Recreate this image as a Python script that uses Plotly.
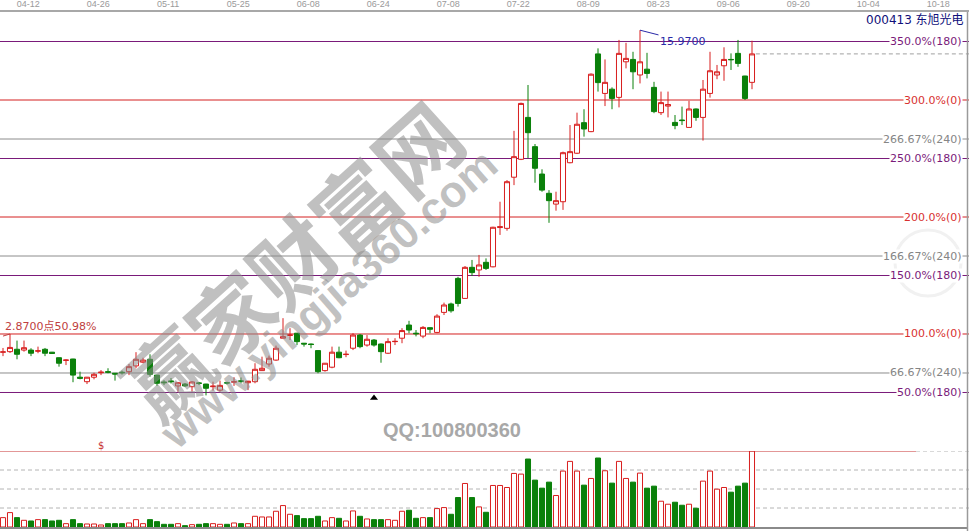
import plotly.graph_objects as go

# ---------------- data ----------------
DATE_LABELS = ["04-12", "04-26", "05-11", "05-25", "06-08", "06-24", "07-08",
               "07-22", "08-09", "08-23", "09-06", "09-20", "10-04", "10-18"]

OPEN = [3.75, 3.77, 3.86, 3.83, 3.83, 3.79, 3.86, 3.75, 3.54, 3.44,
        3.49, 2.80, 2.63, 2.80, 2.97, 3.01, 2.95, 2.99, 3.01, 3.23,
        3.37, 3.48, 2.88, 2.62, 2.66, 2.47, 2.54, 2.44, 2.58, 2.54,
        2.44, 2.31, 2.59, 2.61, 2.66, 2.59, 2.63, 3.05, 3.30, 3.45,
        4.28, 4.39, 4.47, 4.09, 4.06, 3.81, 3.05, 3.18, 3.75, 3.66,
        3.90, 4.40, 4.02, 4.21, 4.06, 3.71, 4.15, 4.28, 4.78, 4.47,
        4.36, 4.68, 4.50, 5.26, 5.58, 6.55, 5.79, 6.97, 6.87, 7.16,
        6.99, 8.48, 8.45, 10.39, 11.07, 12.66, 11.55, 10.51, 9.78, 9.37,
        9.46, 10.94, 11.30, 12.46, 12.12, 15.07, 13.57, 13.73, 13.42, 14.77,
        14.86, 14.27, 14.49, 13.80, 12.84, 13.09, 12.47, 12.56, 12.28, 12.98,
        12.66, 13.57, 14.27, 14.62, 14.86, 15.09, 14.23, 13.99]
HIGH = [3.91, 4.44, 4.19, 4.19, 3.90, 3.96, 3.91, 3.76, 3.55, 3.48,
        3.50, 3.01, 2.81, 2.97, 3.07, 3.14, 2.96, 3.05, 3.30, 3.75,
        3.54, 3.67, 2.89, 2.69, 2.77, 2.62, 2.58, 2.65, 2.62, 2.55,
        2.63, 2.67, 2.63, 2.80, 2.79, 2.66, 3.33, 3.58, 3.62, 4.00,
        5.04, 4.66, 4.48, 4.10, 4.08, 3.83, 3.34, 3.96, 3.96, 3.81,
        4.47, 4.44, 4.40, 4.25, 4.08, 4.28, 4.28, 4.66, 4.94, 4.59,
        4.74, 4.69, 5.19, 5.63, 5.63, 6.61, 7.02, 7.25, 7.44, 7.31,
        8.51, 9.46, 10.28, 12.15, 13.22, 13.89, 11.65, 10.69, 9.90, 9.84,
        11.36, 12.37, 12.84, 12.97, 14.33, 15.28, 14.86, 13.80, 15.60, 15.49,
        15.15, 15.97, 15.11, 14.01, 13.64, 13.64, 12.75, 13.07, 13.29, 13.00,
        14.08, 15.15, 14.65, 15.32, 15.09, 15.60, 14.24, 15.57]
LOW = [3.60, 3.72, 3.48, 3.77, 3.60, 3.71, 3.60, 3.68, 3.20, 3.26,
       2.61, 2.72, 2.54, 2.72, 2.88, 2.95, 2.67, 2.90, 2.88, 3.14,
       3.33, 2.82, 2.47, 2.50, 2.56, 2.25, 2.43, 2.25, 2.50, 2.11,
       2.29, 2.25, 2.52, 2.47, 2.57, 2.31, 2.57, 3.04, 3.20, 3.42,
       4.27, 4.21, 4.02, 3.96, 3.90, 2.95, 3.01, 3.14, 3.52, 3.56,
       3.83, 3.90, 3.96, 3.96, 3.35, 3.68, 4.02, 4.09, 4.47, 4.35,
       4.28, 4.47, 4.47, 5.16, 5.25, 5.48, 5.77, 6.64, 6.61, 6.87,
       6.97, 8.20, 8.36, 10.09, 11.04, 11.11, 10.18, 9.84, 8.66, 9.12,
       9.15, 10.92, 11.27, 11.93, 12.10, 13.64, 13.09, 12.97, 13.04, 14.52,
       13.73, 13.95, 14.14, 12.82, 12.75, 12.66, 12.21, 12.37, 12.27, 12.53,
       11.78, 13.41, 14.11, 14.05, 14.46, 14.58, 13.32, 13.73]
CLOSE = [3.76, 3.93, 3.67, 3.92, 3.71, 3.80, 3.71, 3.70, 3.33, 3.45,
         2.88, 2.76, 2.80, 2.91, 2.99, 2.99, 2.92, 2.97, 3.20, 3.48,
         3.45, 2.91, 2.57, 2.59, 2.63, 2.59, 2.47, 2.62, 2.57, 2.38,
         2.46, 2.49, 2.58, 2.63, 2.65, 2.65, 3.10, 3.14, 3.52, 3.90,
         4.34, 4.40, 4.15, 4.06, 4.04, 3.01, 3.33, 3.75, 3.54, 3.67,
         4.40, 3.96, 4.24, 4.02, 3.77, 4.15, 4.16, 4.57, 4.59, 4.45,
         4.69, 4.62, 5.12, 5.54, 5.32, 5.60, 6.97, 6.77, 7.06, 6.93,
         8.49, 8.51, 10.22, 11.17, 13.19, 12.08, 10.73, 9.90, 9.50, 9.50,
         11.32, 11.36, 12.40, 12.22, 14.30, 13.98, 13.99, 13.38, 15.09, 14.90,
         14.39, 14.77, 14.33, 12.88, 13.22, 13.15, 12.35, 12.54, 12.98, 12.66,
         13.73, 14.43, 14.39, 14.86, 14.85, 14.71, 13.38, 15.07]
VOLUME = [28, 43, 28, 20, 18, 22, 22, 18, 20, 10,
          22, 10, 9, 9, 6, 10, 10, 10, 12, 22,
          10, 22, 16, 8, 8, 10, 4, 7, 8, 10,
          10, 8, 8, 12, 10, 10, 32, 30, 30, 47,
          64, 38, 34, 25, 25, 32, 18, 28, 26, 18,
          48, 32, 24, 22, 22, 22, 20, 47, 50, 26,
          28, 28, 55, 58, 38, 88, 130, 88, 60, 44,
          124, 124, 118, 160, 158, 203, 140, 116, 134, 94,
          167, 196, 167, 125, 145, 206, 168, 131, 196, 145,
          134, 161, 116, 122, 77, 68, 74, 65, 68, 56,
          137, 167, 113, 118, 104, 122, 131, 227]

BASE_PRICE = 4.44
LEVEL_PCT = [350, 300, 266.67, 250, 200, 166.67, 150, 100, 66.67, 50]
LEVEL_ANGLE = [180, 0, 240, 180, 0, 240, 180, 0, 240, 180]
LEVEL_TEXT = ["350.0%(180)", "300.0%(0)", "266.67%(240)", "250.0%(180)",
              "200.0%(0)", "166.67%(240)", "150.0%(180)", "100.0%(0)",
              "66.67%(240)", "50.0%(180)"]
STOCK_LABEL = "000413 东旭光电"
MOVE_TEXT = "2.8700点50.98%"
MARK_INDEX = 53
MARK_PRICE = 2.01

# ---------------- styling ----------------
W, H = 969, 531
RED = "#D81E1E"
GREEN = "#0A800A"
PURPLE = "#7A1A7A"
GRAY = "#8C8C8C"
ANGLE_COLOR = {180: PURPLE, 0: "#D42020", 240: GRAY}
ANGLE_TEXT = {180: "#7A1A7A", 0: "#D83030", 240: "#858585"}
FONT = "DejaVu Sans, Noto Sans CJK SC, sans-serif"

N = len(OPEN)
X = list(range(N))
XR0 = -3.0 / 7.0
XR1 = XR0 + W / 7.0


def py(px):  # paper y from pixel row
    return (H - px) / H


def pxx(px):  # paper x from pixel column
    return px / W


PRICE_DOM = [py(440), py(12)]
PRICE_RANGE = [0.417, 16.66]
VOL_DOM = [py(527), py(451)]
VMAX = max(VOLUME)

up = [c >= o for o, c in zip(OPEN, CLOSE)]

fig = go.Figure()

fig.add_trace(go.Candlestick(
    x=X, open=OPEN, high=HIGH, low=LOW, close=CLOSE,
    increasing=dict(line=dict(color=RED, width=1), fillcolor="white"),
    decreasing=dict(line=dict(color=GREEN, width=1), fillcolor=GREEN),
    whiskerwidth=0, hoverinfo="skip", showlegend=False,
    xaxis="x", yaxis="y"))

fig.add_trace(go.Bar(
    x=X, y=VOLUME, width=0.72,
    marker=dict(color=["white" if u else GREEN for u in up],
                line=dict(color=[RED if u else GREEN for u in up], width=1)),
    hoverinfo="skip", showlegend=False, xaxis="x", yaxis="y2"))

fig.add_trace(go.Scatter(
    x=[MARK_INDEX], y=[MARK_PRICE], mode="markers",
    marker=dict(symbol="triangle-up", size=7, color="black"),
    hoverinfo="skip", showlegend=False, xaxis="x", yaxis="y"))

shapes = []
annotations = []

# level lines + labels
for pct, ang, txt in zip(LEVEL_PCT, LEVEL_ANGLE, LEVEL_TEXT):
    yv = BASE_PRICE * pct / 100.0
    shapes.append(dict(type="line", xref="x", yref="y", x0=XR0, x1=XR1,
                       y0=yv, y1=yv, line=dict(color=ANGLE_COLOR[ang], width=1),
                       layer="below"))
    annotations.append(dict(xref="paper", yref="y", x=pxx(963), y=yv,
                            xanchor="right", yanchor="middle", text=txt,
                            showarrow=False, bgcolor="white", borderpad=0,
                            font=dict(family=FONT, size=11, color=ANGLE_TEXT[ang])))

# last close dashed line
shapes.append(dict(type="line", xref="x", yref="y", x0=N - 1 + 0.55, x1=XR1,
                   y0=CLOSE[-1], y1=CLOSE[-1],
                   line=dict(color="#A0A0A0", width=1, dash="4px,3px")))

# volume grid
for k in (1, 2, 3):
    shapes.append(dict(type="line", xref="paper", yref="y2", x0=0, x1=1,
                       y0=VMAX * k / 4, y1=VMAX * k / 4,
                       line=dict(color="#B4B4B4", width=1, dash="4px,3px"),
                       layer="below"))
shapes.append(dict(type="line", xref="paper", yref="y2", x0=0, x1=pxx(916),
                   y0=VMAX, y1=VMAX, line=dict(color="#C83030", width=1.2)))
shapes.append(dict(type="line", xref="paper", yref="y2", x0=pxx(916), x1=1,
                   y0=VMAX, y1=VMAX,
                   line=dict(color="#B4B4B4", width=1, dash="4px,3px")))
# bottom border
shapes.append(dict(type="line", xref="paper", yref="paper", x0=0, x1=pxx(968),
                   y0=py(528), y1=py(528), line=dict(color="#8A8A8A", width=2)))
# right border
shapes.append(dict(type="line", xref="paper", yref="paper", x0=pxx(967.5), x1=pxx(967.5),
                   y0=0, y1=py(12), line=dict(color="#9A9A9A", width=1.5)))
# faint circle watermark at right
shapes.append(dict(type="circle", xref="paper", yref="paper",
                   x0=pxx(895), x1=pxx(961), y0=py(296), y1=py(230),
                   line=dict(color="#F1F1F1", width=3), layer="below"))

# stock name
annotations.append(dict(xref="paper", yref="paper", x=pxx(966), y=py(20),
                        xanchor="right", yanchor="middle", text=STOCK_LABEL,
                        showarrow=False,
                        font=dict(family=FONT, size=12, color="#10107A")))

# highest price marker
imax = HIGH.index(max(HIGH))
annotations.append(dict(xref="x", yref="y", x=imax, y=HIGH[imax],
                        text="%.4f" % HIGH[imax], showarrow=True, arrowhead=0,
                        arrowwidth=1, arrowcolor="#2A2AA8", ax=43, ay=11,
                        font=dict(family=FONT, size=11, color="#2A2AA8")))

# move annotation at left
annotations.append(dict(xref="x", yref="y", x=1, y=HIGH[1], text=" ",
                        showarrow=True, arrowhead=0, arrowwidth=1,
                        arrowcolor="#C04040", ax=-14, ay=3))
annotations.append(dict(xref="paper", yref="paper", x=pxx(98), y=py(326),
                        xanchor="right", yanchor="middle", text=MOVE_TEXT,
                        showarrow=False,
                        font=dict(family=FONT, size=11, color="#C04040")))

# "$" marker in volume area
annotations.append(dict(xref="paper", yref="paper", x=pxx(101), y=py(445),
                        xanchor="center", yanchor="middle",
                        text="$", showarrow=False,
                        font=dict(family=FONT, size=10, color="#C83030")))

# watermarks
annotations.append(dict(xref="paper", yref="paper", x=pxx(290), y=py(258),
                        xanchor="center", yanchor="middle",
                        text="赢家财富网", textangle=-42, showarrow=False,
                        font=dict(family="Noto Sans CJK SC", size=84,
                                  color="rgba(140,140,140,0.55)", weight="bold")))
annotations.append(dict(xref="paper", yref="paper", x=pxx(328), y=py(298),
                        xanchor="center", yanchor="middle",
                        text="www.yingjia360.com", textangle=-41, showarrow=False,
                        font=dict(family="Liberation Sans, Arial", size=44,
                                  color="rgba(140,140,140,0.55)", weight="bold")))
annotations.append(dict(xref="paper", yref="paper", x=pxx(452), y=py(430),
                        xanchor="center", yanchor="middle",
                        text="QQ:100800360", showarrow=False,
                        font=dict(family="Liberation Sans, Arial", size=20,
                                  color="#A8A8A8", weight="bold")))

fig.update_layout(
    width=W, height=H,
    margin=dict(l=0, r=0, t=0, b=0),
    paper_bgcolor="white", plot_bgcolor="white",
    showlegend=False,
    boxgap=0.28, boxgroupgap=0,
    xaxis=dict(range=[XR0, XR1], side="top", anchor="y",
               tickvals=[3.6 + 10 * k for k in range(len(DATE_LABELS))],
               ticktext=DATE_LABELS, showgrid=False, zeroline=False,
               showline=True, linecolor="#A8A8A8", linewidth=1.5, ticks="",
               tickfont=dict(family="Liberation Sans, Arial", size=9, color="#9A9A9A"),
               rangeslider=dict(visible=False), fixedrange=True),
    yaxis=dict(domain=PRICE_DOM, range=PRICE_RANGE, showgrid=False,
               zeroline=False, showticklabels=False, showline=False, fixedrange=True),
    yaxis2=dict(domain=VOL_DOM, range=[0, VMAX], showgrid=False, zeroline=False,
                showticklabels=False, showline=False, anchor="x", fixedrange=True),
    shapes=shapes, annotations=annotations,
)

fig.write_html("out.html", config={"displayModeBar": False},
               post_script="document.body.style.margin='0';"
                           "document.body.style.overflow='hidden';")
